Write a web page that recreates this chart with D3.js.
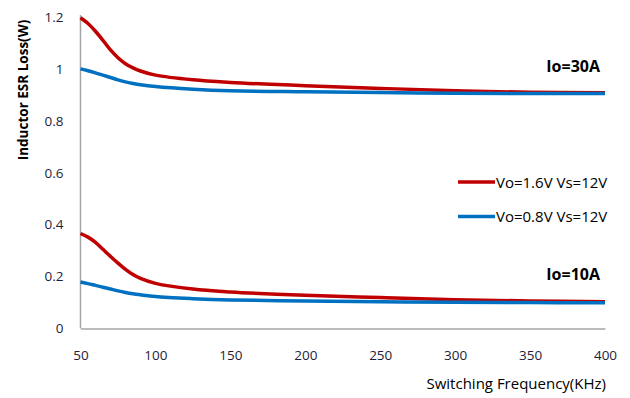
<!DOCTYPE html>
<html>
<head>
<meta charset="utf-8">
<script src="https://cdn.jsdelivr.net/npm/d3@7"></script>
<style>
  html, body { margin: 0; padding: 0; background: #fff; }
  svg { display: block; }
  text { font-family: "Open Sans", "Noto Sans", sans-serif; }
</style>
</head>
<body>
<svg id="chart" width="630" height="398"></svg>
<script>
// Switching frequency (kHz) at which the losses were evaluated
const freqs = [50, 55, 60, 65, 70, 75, 80, 85, 90, 100, 125, 150, 200, 250, 300, 350, 400];

// Inductor ESR loss (W)
const red30  = [1.197, 1.175, 1.145, 1.110, 1.073, 1.043, 1.020, 1.004, 0.992, 0.976, 0.958, 0.948, 0.935, 0.925, 0.916, 0.910, 0.908];
const blue30 = [1.000, 0.993, 0.985, 0.976, 0.967, 0.958, 0.950, 0.944, 0.939, 0.932, 0.922, 0.916, 0.912, 0.909, 0.906, 0.905, 0.905];
const red10  = [0.366, 0.352, 0.332, 0.305, 0.278, 0.252, 0.228, 0.208, 0.193, 0.174, 0.152, 0.141, 0.128, 0.119, 0.111, 0.106, 0.103];
const blue10 = [0.179, 0.173, 0.166, 0.159, 0.152, 0.145, 0.139, 0.134, 0.130, 0.123, 0.115, 0.110, 0.106, 0.103, 0.101, 0.100, 0.099];

const xTicks = [50, 100, 150, 200, 250, 300, 350, 400];
const yTicks = [0, 0.2, 0.4, 0.6, 0.8, 1, 1.2];

const legendItems = ["Vo=1.6V Vs=12V", "Vo=0.8V Vs=12V"];
const annotations = [{ text: "Io=30A", v: 1.0 }, { text: "Io=10A", v: 0.2 }];

const RED = "#C00000", BLUE = "#0070C0";

const svg = d3.select("#chart");
const x = d3.scaleLinear().domain([50, 400]).range([80.5, 605]);
const y = d3.scaleLinear().domain([0, 1.2]).range([328.5, 17]);

// Axes (no tick marks, gray domain lines)
const xAxis = svg.append("g")
  .attr("transform", `translate(0,${y(0)})`)
  .call(d3.axisBottom(x).tickValues(xTicks).tickSize(0).tickPadding(22).tickFormat(d3.format("d")));
const yAxis = svg.append("g")
  .attr("transform", `translate(${x(50)},0)`)
  .call(d3.axisLeft(y).tickValues(yTicks).tickSize(0).tickPadding(17).tickFormat(d => d3.format("~g")(d)));
[xAxis, yAxis].forEach(g => {
  g.select(".domain").attr("stroke", "#A6A6A6").attr("stroke-width", 1.5);
  g.selectAll(".tick text").attr("font-size", 13.5).attr("fill", "#1E1E38")
    .attr("font-family", "'Open Sans', sans-serif");
});
yAxis.select(".domain").attr("d", `M0,${y(1.2) - 2}V${y(0)}`);

// Axis titles
svg.append("text")
  .attr("transform", `translate(28,90) rotate(-90)`)
  .attr("text-anchor", "middle")
  .attr("font-size", 13.5).attr("font-weight", "bold").attr("fill", "#000")
  .text("Inductor ESR Loss(W)");
svg.append("text")
  .attr("x", 606).attr("y", 389)
  .attr("text-anchor", "end")
  .attr("font-size", 15).attr("fill", "#000")
  .text("Switching Frequency(KHz)");

// Curves
const line = d3.line()
  .x((d, i) => x(freqs[i]))
  .y(d => y(d))
  .curve(d3.curveCatmullRom.alpha(0.5));

const series = [
  { vals: red30, color: RED },
  { vals: red10, color: RED },
  { vals: blue30, color: BLUE },
  { vals: blue10, color: BLUE }
];
svg.append("g").selectAll("path").data(series).join("path")
  .attr("d", d => line(d.vals))
  .attr("fill", "none")
  .attr("stroke", d => d.color)
  .attr("stroke-width", 3.5)
  .attr("stroke-linecap", "butt");

// Current annotations
svg.append("g").selectAll("text").data(annotations).join("text")
  .attr("x", 600)
  .attr("y", d => y(d.v) + 3)
  .attr("text-anchor", "end")
  .attr("font-size", 16).attr("font-weight", "bold").attr("fill", "#000")
  .text(d => d.text);

// Legend
const legend = svg.append("g");
const legColors = [RED, BLUE];
legendItems.forEach((label, i) => {
  const ly = 182 + i * 34.5;
  legend.append("line")
    .attr("x1", 458).attr("x2", 495).attr("y1", ly).attr("y2", ly)
    .attr("stroke", legColors[i]).attr("stroke-width", 3.5);
  legend.append("text")
    .attr("x", 496).attr("y", ly + 5.5)
    .attr("font-size", 15).attr("fill", "#000")
    .text(label);
});
</script>
</body>
</html>
